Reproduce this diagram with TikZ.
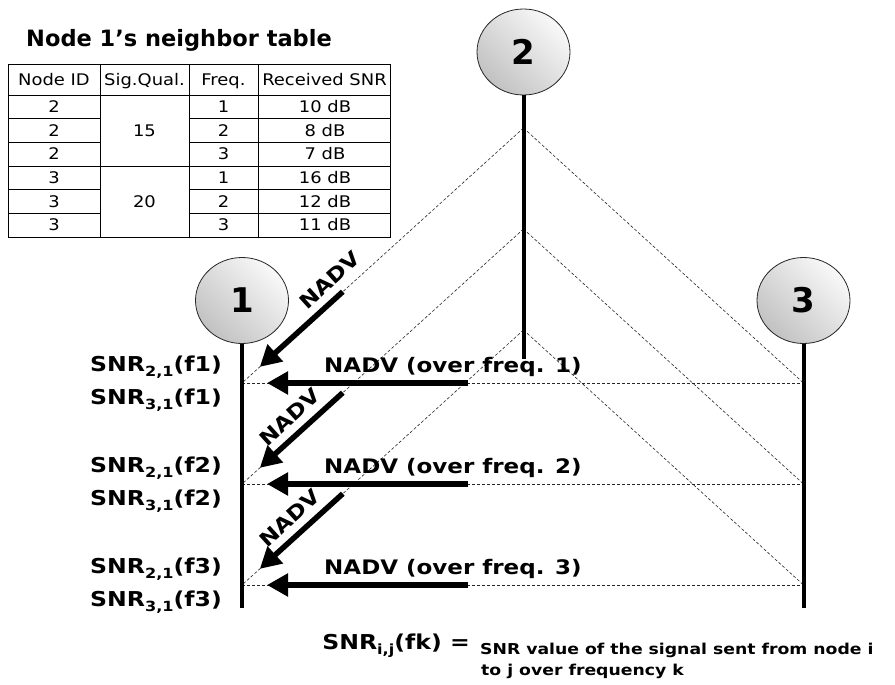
\documentclass[tikz,border=0pt]{standalone}
\usepackage{fontspec}
\setmainfont{DejaVu Sans}
\newfontfamily\tblfont[FakeStretch=1.12]{DejaVu Sans}
\newfontfamily\lblfont[FakeStretch=1.15]{DejaVu Sans}
\usetikzlibrary{shapes.geometric,arrows.meta,calc}
\newcommand\subtxt[1]{\raisebox{-5pt}{\fontsize{14}{14}\selectfont #1}}
\begin{document}
\begin{tikzpicture}[x=1pt,y=-1pt,
  nodeell/.style={ellipse, draw=black!85, line width=0.8pt, minimum width=93pt, minimum height=86pt, inner sep=0pt,
    shading=axis, top color=gray!5, bottom color=gray!48, shading angle=-45,
    font=\fontsize{34}{34}\selectfont\bfseries},
  lifeline/.style={line width=4pt},
  msgline/.style={dash pattern=on 3pt off 2pt, line width=0.6pt, black!85},
  bigarrow/.style={line width=5.5pt, -{Triangle[length=21pt,width=22pt]}},
  lbl/.style={font=\lblfont\bfseries\fontsize{20}{24}\selectfont, inner sep=0pt},
  snrlbl/.style={font=\lblfont\bfseries\fontsize{20.5}{24}\selectfont, inner sep=0pt, anchor=base west},
  leglbl/.style={font=\lblfont\bfseries\fontsize{15}{18}\selectfont, inner sep=0pt, anchor=base west},
  tbl/.style={font=\tblfont\fontsize{16}{19}\selectfont, inner sep=0pt, anchor=base},
  tline/.style={line width=0.8pt, black}
]
\useasboundingbox (0,0) rectangle (895,685);

% ---------- title and table ----------
\node[font=\bfseries\fontsize{22.5}{26}\selectfont, inner sep=0pt, anchor=base] (title) at (179,47) {Node 1’s neighbor table};

\draw[tline] (8,64) rectangle (390,237);
\foreach \cx in {100,189,258} \draw[tline] (\cx,64) -- (\cx,237);
\draw[tline] (8,95) -- (390,95);
\draw[tline] (8,166) -- (390,166);
\foreach \ry in {118.67,142.33,189.67,213.33} {
  \draw[tline] (8,\ry) -- (100,\ry);
  \draw[tline] (189,\ry) -- (390,\ry);
}
\node[tbl] (hid) at (54,85.3) {Node ID};
\node[tbl] (hsq) at (144.5,85.3) {Sig.Qual.};
\node[tbl] (hfq) at (223.5,85.3) {Freq.};
\node[tbl] (hsnr) at (324.5,85.3) {Received SNR};
\foreach \nid/\fq/\snr [count=\i] in {2/1/10 dB, 2/2/8 dB, 2/3/7 dB, 3/1/16 dB, 3/2/12 dB, 3/3/11 dB} {
  \pgfmathsetmacro\yy{95+(\i-0.5)*23.667+5.8}
  \node[tbl] (id\i) at (54,\yy) {\nid};
  \node[tbl] (fq\i) at (223.5,\yy) {\fq};
  \node[tbl] (sn\i) at (325,\yy) {\snr};
}
\node[tbl] (sq1) at (144.5,136.3) {15};
\node[tbl] (sq2) at (144.5,207.3) {20};

% ---------- coordinates ----------
\coordinate (p1) at (523.5,128);
\coordinate (p2) at (523.5,229);
\coordinate (p3) at (523.5,330);
\coordinate (a1) at (242,383);
\coordinate (a2) at (242,484);
\coordinate (a3) at (242,585);
\coordinate (b1) at (803.5,383);
\coordinate (b2) at (803.5,484);
\coordinate (b3) at (803.5,585);

% ---------- dashed message lines ----------
\foreach \k in {1,2,3} {
  \draw[msgline] (p\k) -- (a\k);
  \draw[msgline] (p\k) -- (b\k);
  \draw[msgline] (a\k) -- (b\k);
}

% ---------- nodes and lifelines ----------
\node[nodeell] (n1) at (242,300.5) {1};
\node[nodeell] (n2) at (523.5,52) {2};
\node[nodeell] (n3) at (803.5,300.5) {3};
\coordinate (e1) at (242,608);
\coordinate (e2) at (523.5,359);
\coordinate (e3) at (803.5,608);
\draw[lifeline] (n1.south) -- (e1);
\draw[lifeline] (n2.south) -- (e2);
\draw[lifeline] (n3.south) -- (e3);

% ---------- thick arrows ----------
\foreach \k in {1,2,3} {
  \coordinate (ds\k) at ($(a\k)!136pt!(p\k)$);
  \coordinate (de\k) at ($(a\k)!24pt!(p\k)$);
  \draw[bigarrow] (ds\k) -- (de\k);
}
\coordinate (hs1) at (468,383);
\coordinate (he1) at (267,383);
\coordinate (hs2) at (468,484);
\coordinate (he2) at (267,484);
\coordinate (hs3) at (468,585);
\coordinate (he3) at (267,585);
\draw[bigarrow] (hs1) -- (he1);
\draw[bigarrow] (hs2) -- (he2);
\draw[bigarrow] (hs3) -- (he3);

% ---------- labels ----------
\node[lbl, rotate=42.2] (nd1) at (329.6,280.2) {NADV};
\node[lbl, rotate=42.2] (nd2) at (289.6,417.4) {NADV};
\node[lbl, rotate=42.2] (nd3) at (289.6,518.4) {NADV};
\node[lbl, anchor=base west] (nh1) at (324,372) {NADV (over freq. 1)};
\node[lbl, anchor=base west] (nh2) at (324,473) {NADV (over freq. 2)};
\node[lbl, anchor=base west] (nh3) at (324,574) {NADV (over freq. 3)};

\node[snrlbl] (s21a) at (90,371) {SNR\subtxt{2,1}(f1)};
\node[snrlbl] (s31a) at (90,404) {SNR\subtxt{3,1}(f1)};
\node[snrlbl] (s21b) at (90,472) {SNR\subtxt{2,1}(f2)};
\node[snrlbl] (s31b) at (90,505) {SNR\subtxt{3,1}(f2)};
\node[snrlbl] (s21c) at (90,573) {SNR\subtxt{2,1}(f3)};
\node[snrlbl] (s31c) at (90,606) {SNR\subtxt{3,1}(f3)};

% ---------- legend ----------
\node[snrlbl, anchor=base east] (legsym) at (470,649) {SNR\subtxt{i,j}(fk) =};
\node[leglbl] (leg1) at (480,654) {SNR value of the signal sent from node i};
\node[leglbl] (leg2) at (481,675) {to j over frequency k};
\end{tikzpicture}
\end{document}
